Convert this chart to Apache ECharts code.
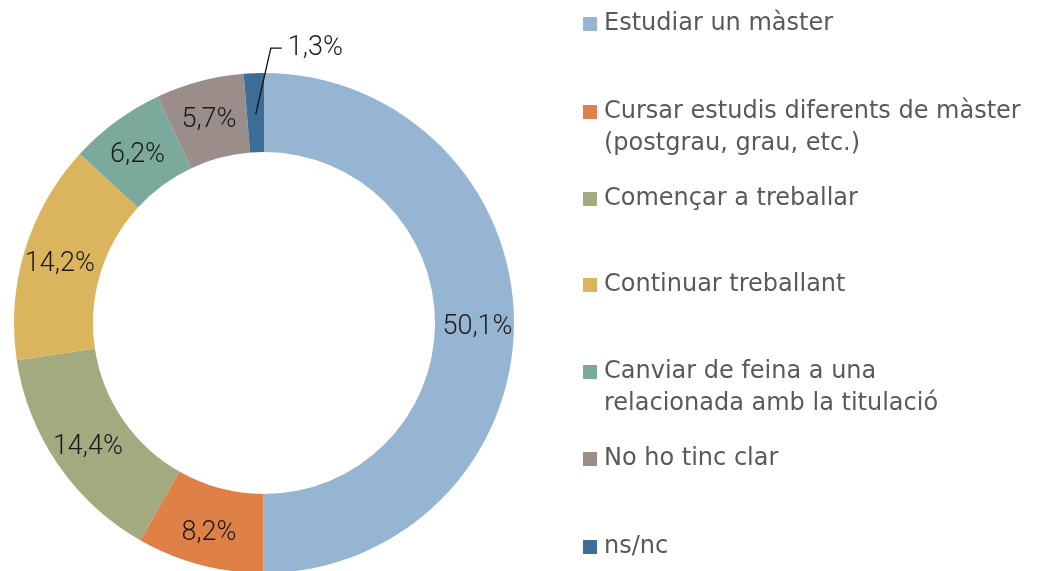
<!DOCTYPE html>
<html>
<head>
<meta charset="utf-8">
<script src="https://cdn.jsdelivr.net/npm/echarts@6/dist/echarts.min.js"></script>
<style>
html,body{margin:0;padding:0;background:#fff;}
#chart{width:1041px;height:571px;}
</style>
</head>
<body>
<div id="chart"></div>
<script>
const categories = [
  "Estudiar un màster",
  "Cursar estudis diferents de màster\n(postgrau, grau, etc.)",
  "Començar a treballar",
  "Continuar treballant",
  "Canviar de feina a una\nrelacionada amb la titulació",
  "No ho tinc clar",
  "ns/nc"
];
const values = [50.1, 8.2, 14.4, 14.2, 6.2, 5.7, 1.3];
const colors = ["#95B5D3", "#DF8047", "#A4AA80", "#DBB45E", "#7BA99B", "#9A8D8A", "#3E6E97"];
const legendCenters = [24, 112, 199, 285, 372, 459, 547];
const outsideIndex = 6;

const LEGEND_FONT = "DejaVu Sans";
const LABEL_FONT = "Roboto";
const fmt = v => String(v).replace('.', ',') + '%';

const mainData = categories.map((n, i) => ({
  name: n, value: values[i], itemStyle: { color: colors[i] },
  label: { show: i !== outsideIndex }
}));

const overlayData = categories.map((n, i) => ({
  name: n, value: values[i],
  label: { show: i === outsideIndex },
  labelLine: { show: i === outsideIndex }
}));

const legends = categories.map((n, i) => {
  const multi = n.indexOf('\n') >= 0;
  return {
    data: [n],
    orient: 'vertical',
    left: 583,
    top: legendCenters[i] - (multi ? 48 : 16),
    padding: 0,
    itemWidth: 14,
    itemHeight: 14,
    icon: 'rect',
    selectedMode: false,
    formatter: name => name.indexOf('\n') >= 0 ? '\n' + name : name,
    textStyle: { fontFamily: LEGEND_FONT, fontSize: 24, color: '#595959', lineHeight: 32, padding: [0, 0, 0, 2] }
  };
});

const chart = echarts.init(document.getElementById('chart'), null, { renderer: 'canvas' });
chart.setOption({
  animation: false,
  legend: legends,
  series: [{
    type: 'pie',
    z: 2,
    center: [264, 323],
    radius: [171, 250],
    startAngle: 90,
    clockwise: true,
    avoidLabelOverlap: false,
    data: mainData,
    label: {
      position: 'inside',
      formatter: p => fmt(p.value),
      fontFamily: LABEL_FONT,
      fontWeight: 300,
      fontSize: 27,
      color: '#1a1a1a'
    },
    labelLine: { show: false },
    labelLayout: { dy: 4 },
    emphasis: { disabled: true },
    silent: true
  }, {
    type: 'pie',
    z: 5,
    center: [264, 323],
    radius: [171, 250],
    startAngle: 90,
    clockwise: true,
    avoidLabelOverlap: false,
    data: overlayData,
    itemStyle: { color: 'rgba(0,0,0,0)' },
    label: {
      position: 'outside',
      formatter: p => fmt(p.value),
      fontFamily: LABEL_FONT,
      fontWeight: 300,
      fontSize: 27,
      color: '#1a1a1a'
    },
    labelLine: { length: 20, length2: 10, lineStyle: { color: '#111', width: 1.3, opacity: 1 } },
    labelLayout: function (params) {
      if (params.dataIndex !== outsideIndex || !params.labelLinePoints) return {};
      const p0 = params.labelLinePoints[0];
      const a = [p0[0] + 2, p0[1] + 41];
      const b = [p0[0] + 17, p0[1] - 25];
      const c = [p0[0] + 28, p0[1] - 25];
      return {
        x: c[0] + 6,
        y: c[1],
        align: 'left',
        verticalAlign: 'middle',
        labelLinePoints: [a, b, c]
      };
    },
    emphasis: { disabled: true },
    silent: true
  }]
});
</script>
</body>
</html>
